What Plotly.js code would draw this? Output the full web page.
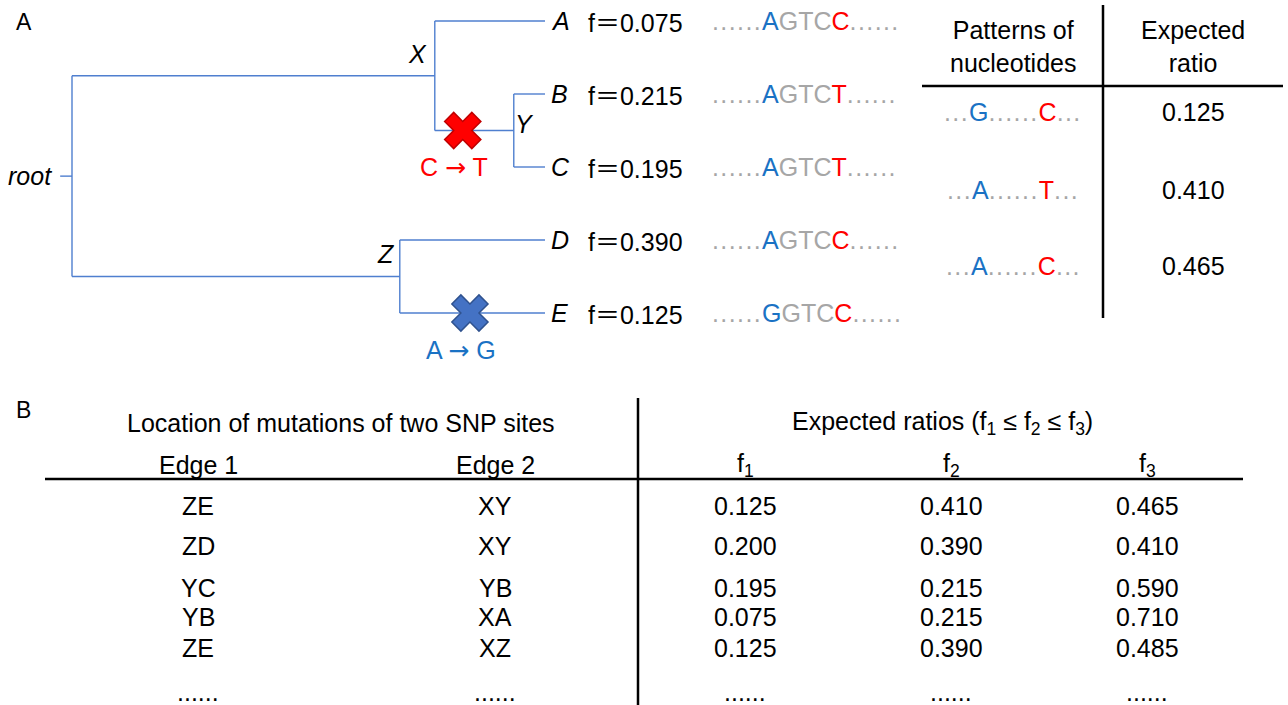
<!DOCTYPE html>
<html>
<head>
<meta charset="utf-8">
<script src="https://cdn.plot.ly/plotly-3.0.1.min.js"></script>
<style>html,body{margin:0;padding:0;background:#fff;}#chart{width:1288px;height:705px;}</style>
</head>
<body>
<div id="chart"></div>
<script>
// ---------------- DATA ----------------
// Panel A: tree
var leaves = ['A', 'B', 'C', 'D', 'E'];
var leafFreqs = [0.075, 0.215, 0.195, 0.390, 0.125];
var site1 = ['A', 'A', 'A', 'A', 'G'];
var site2 = ['C', 'T', 'T', 'C', 'C'];
var middleSeq = 'GTC';
var internalNodes = ['root', 'X', 'Y', 'Z'];
var nodeChildren = {root: ['X', 'Z'], X: ['A', 'Y'], Y: ['B', 'C'], Z: ['D', 'E']};
var nodeDepth = {root: 0, X: 0.767, Y: 0.934, Z: 0.693};   // distance from root (leaves at 1)
var mutEdgeChild = ['Y', 'E'];
var mutFrom = ['C', 'A'];
var mutTo = ['T', 'G'];
// Panel A: expected ratio table
var patSite1 = ['G', 'A', 'A'];
var patSite2 = ['C', 'T', 'C'];
var patRatio = ['0.125', '0.410', '0.465'];
// Panel B table
var edge1 = ['ZE', 'ZD', 'YC', 'YB', 'ZE', '......'];
var edge2 = ['XY', 'XY', 'YB', 'XA', 'XZ', '......'];
var f1 = ['0.125', '0.200', '0.195', '0.075', '0.125', '......'];
var f2 = ['0.410', '0.390', '0.215', '0.215', '0.390', '......'];
var f3 = ['0.465', '0.410', '0.590', '0.710', '0.485', '......'];

// ---------------- STYLE / LAYOUT CONSTANTS ----------------
var W = 1288, H = 705;
var FONT = 'Arial, "Liberation Sans", Helvetica, sans-serif';
var FS = 25;
var treeBlue = '#4f7fcf';
var letterBlue = '#1a72c4';
var red = '#ff0000';
var grey = '#a6a6a6';
var rootX = 72, leafX = 545;        // px where depth 0 / 1 fall
var leafTop = 21, leafStep = 73;    // px of leaf 0, px per leaf
var mutFrac = [0.354, 0.483];       // position of the cross along its edge
var rowsB = [506, 546, 588, 617, 648, 692];
var rowsA = [112, 190, 266];

function px(x) { return x / W; }
function py(y) { return 1 - y / H; }

// ---------------- TREE GEOMETRY FROM DATA ----------------
var depth = {}, ypos = {};
leaves.forEach(function (l, i) { depth[l] = 1; ypos[l] = i; });
internalNodes.forEach(function (n) { depth[n] = nodeDepth[n]; });
function yOf(n) {
  if (ypos[n] !== undefined) return ypos[n];
  var c = nodeChildren[n];
  var v = c.reduce(function (s, k) { return s + yOf(k); }, 0) / c.length;
  ypos[n] = v; return v;
}
yOf('root');
var parentOf = {};
Object.keys(nodeChildren).forEach(function (p) { nodeChildren[p].forEach(function (c) { parentOf[c] = p; }); });

var lx = [], ly = [];
internalNodes.forEach(function (n) {
  var c = nodeChildren[n];
  var ys = c.map(function (k) { return ypos[k]; });
  lx.push(depth[n], depth[n], null); ly.push(Math.min.apply(null, ys), Math.max.apply(null, ys), null);
  c.forEach(function (k) { lx.push(depth[n], depth[k], null); ly.push(ypos[k], ypos[k], null); });
});
// root stub
lx.push(-0.025, 0, null); ly.push(ypos.root, ypos.root, null);

var traces = [{
  type: 'scatter', mode: 'lines', x: lx, y: ly,
  line: {color: treeBlue, width: 1.4}, hoverinfo: 'skip', showlegend: false
}];

var mx = [], my = [];
mutEdgeChild.forEach(function (c, i) {
  var p = parentOf[c];
  mx.push(depth[p] + (depth[c] - depth[p]) * mutFrac[i]);
  my.push(ypos[c]);
});
traces.push({
  type: 'scatter', mode: 'markers', x: mx, y: my, cliponaxis: false,
  marker: {symbol: 'x', size: 32, color: [red, '#4472c4'],
           line: {color: ['#c00000', '#2f528f'], width: 1.5}},
  hoverinfo: 'skip', showlegend: false
});

var ann = [];
function A(o) {
  var base = {showarrow: false, font: {family: FONT, size: FS, color: '#000'}};
  for (var k in o) base[k] = o[k];
  ann.push(base);
}
// panel letters
A({xref: 'paper', yref: 'paper', x: px(14), y: py(22), xanchor: 'left', yanchor: 'middle', text: 'A', font: {family: FONT, size: 23, color: '#000'}});
A({xref: 'paper', yref: 'paper', x: px(14), y: py(410), xanchor: 'left', yanchor: 'middle', text: 'B', font: {family: FONT, size: 23, color: '#000'}});

// node labels
A({xref: 'x', yref: 'y', x: depth.root, y: ypos.root, xanchor: 'right', yanchor: 'middle', xshift: -18, text: '<i>root</i>'});
A({xref: 'x', yref: 'y', x: depth.X, y: ypos.X, xanchor: 'center', yanchor: 'middle', xshift: -17, yshift: 22, text: '<i>X</i>'});
A({xref: 'x', yref: 'y', x: depth.Y, y: ypos.Y, xanchor: 'center', yanchor: 'middle', xshift: 11, yshift: 7, text: '<i>Y</i>'});
A({xref: 'x', yref: 'y', x: depth.Z, y: ypos.Z, xanchor: 'center', yanchor: 'middle', xshift: -14, yshift: 23, text: '<i>Z</i>'});

// mutation labels
mutFrom.forEach(function (t, i) {
  A({xref: 'x', yref: 'y', x: mx[i], y: my[i], xanchor: 'center', yanchor: 'middle', xshift: -9, yshift: -37,
     text: t + ' <span style="font-family:\'DejaVu Sans\'">\u2192</span> ' + mutTo[i],
     font: {family: FONT, size: FS, color: i === 0 ? red : letterBlue}});
});

// leaf labels
function dots(n, sp) {
  return '<span style="color:' + grey + ';letter-spacing:' + sp + 'px">' + new Array(n + 1).join('.') + '</span>';
}
leaves.forEach(function (l, i) {
  A({xref: 'x', yref: 'y', x: 1, y: i, xanchor: 'left', yanchor: 'middle', xshift: 4, text: '<i>' + l + '</i>'});
  A({xref: 'paper', yref: 'y', x: px(586), y: i, xanchor: 'left', yanchor: 'middle',
     text: 'f<span style="font-family:\'Noto Sans CJK SC\'">\uFF1D</span>' + leafFreqs[i].toFixed(3)});
  A({xref: 'paper', yref: 'y', x: px(710), y: i, xanchor: 'left', yanchor: 'middle',
     text: dots(6, 1.4) + '<span style="color:' + letterBlue + '">' + site1[i] + '</span>' +
           '<span style="color:' + grey + '">' + middleSeq + '</span>' +
           '<span style="color:' + red + '">' + site2[i] + '</span>' + dots(6, 1.4)});
});

// panel A table
A({xref: 'paper', yref: 'paper', x: px(1013), y: py(47), xanchor: 'center', yanchor: 'middle', text: 'Patterns of<br>nucleotides'});
A({xref: 'paper', yref: 'paper', x: px(1193), y: py(47), xanchor: 'center', yanchor: 'middle', text: 'Expected<br>ratio'});
patSite1.forEach(function (s, i) {
  A({xref: 'paper', yref: 'paper', x: px(1013), y: py(rowsA[i]), xanchor: 'center', yanchor: 'middle',
     text: dots(3, 1.4) + '<span style="color:' + letterBlue + '">' + s + '</span>' + dots(6, 1.4) +
           '<span style="color:' + red + '">' + patSite2[i] + '</span>' + dots(3, 1.4)});
  A({xref: 'paper', yref: 'paper', x: px(1193), y: py(rowsA[i]), xanchor: 'center', yanchor: 'middle', text: patRatio[i]});
});

// panel B table
A({xref: 'paper', yref: 'paper', x: px(341), y: py(423), xanchor: 'center', yanchor: 'middle', text: 'Location of mutations of two SNP sites'});
A({xref: 'paper', yref: 'paper', x: px(943), y: py(423), xanchor: 'center', yanchor: 'middle',
   text: 'Expected ratios (f<sub>1</sub> \u2264 f<sub>2</sub> \u2264 f<sub>3</sub>)'});
var colX = [198, 495, 745, 951, 1147];
var heads = ['Edge 1', 'Edge 2', 'f<sub>1</sub>', 'f<sub>2</sub>', 'f<sub>3</sub>'];
heads.forEach(function (h, j) {
  A({xref: 'paper', yref: 'paper', x: px(colX[j]), y: py(465), xanchor: 'center', yanchor: 'middle', text: h});
});
var cols = [edge1, edge2, f1, f2, f3];
cols.forEach(function (col, j) {
  col.forEach(function (v, i) {
    A({xref: 'paper', yref: 'paper', x: px(colX[j]), y: py(rowsB[i]), xanchor: 'center', yanchor: 'middle', text: v});
  });
});

var shapes = [
  {type: 'line', xref: 'paper', yref: 'paper', x0: px(1103), x1: px(1103), y0: py(5), y1: py(318), line: {color: '#000', width: 2.5}},
  {type: 'line', xref: 'paper', yref: 'paper', x0: px(922), x1: px(1283), y0: py(86), y1: py(86), line: {color: '#000', width: 2.5}},
  {type: 'line', xref: 'paper', yref: 'paper', x0: px(638), x1: px(638), y0: py(398), y1: py(705), line: {color: '#000', width: 2.5}},
  {type: 'line', xref: 'paper', yref: 'paper', x0: px(45), x1: px(1243), y0: py(479), y1: py(479), line: {color: '#000', width: 2.5}}
];

var layout = {
  width: W, height: H,
  margin: {l: 0, r: 0, t: 0, b: 0, pad: 0},
  paper_bgcolor: '#fff', plot_bgcolor: '#fff',
  showlegend: false,
  xaxis: {domain: [0, 1], range: [-rootX / (leafX - rootX), (W - rootX) / (leafX - rootX)],
          visible: false, showgrid: false, zeroline: false, fixedrange: true},
  yaxis: {domain: [0, 1], range: [(H - leafTop) / leafStep, -leafTop / leafStep],
          visible: false, showgrid: false, zeroline: false, fixedrange: true},
  annotations: ann,
  shapes: shapes
};

Plotly.newPlot('chart', traces, layout, {staticPlot: true, displayModeBar: false});
</script>
</body>
</html>
